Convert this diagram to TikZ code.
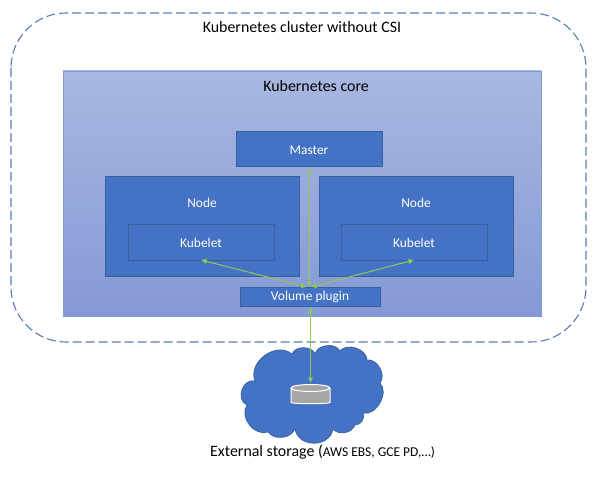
\documentclass[tikz,border=0pt]{standalone}
\usepackage{fontspec}
\setmainfont{Carlito}
\usetikzlibrary{arrows.meta}
\definecolor{blue1}{HTML}{4472C4}
\definecolor{edge1}{HTML}{36609F}
\definecolor{dash1}{HTML}{5B7DB8}
\definecolor{green1}{HTML}{8FCB55}
\definecolor{coreTop}{HTML}{A9B8E0}
\definecolor{coreBot}{HTML}{8499D6}
\definecolor{coreEdge}{HTML}{7F9BD3}
\tikzset{
  x=1pt,y=-1pt,
  bluebox/.style={draw=edge1,line width=1pt,fill=blue1},
  boxtext/.style={text=white,font=\fontsize{13.4}{15}\selectfont},
  lbl/.style={font=\fontsize{15.9}{18}\selectfont,text=black,inner sep=0pt},
  link/.style={draw=green1,line width=1pt,{Latex[length=5.5pt,width=5.5pt]}-{Latex[length=5.5pt,width=5.5pt]}},
}
\begin{document}
\begin{tikzpicture}
\useasboundingbox (0,0) rectangle (599,478);
\fill[white] (0,0) rectangle (599,478);
\draw[dash1,line width=1.1pt,dash pattern=on 9pt off 4pt,rounded corners=55pt] (11,13) rectangle (586,342);
\node[lbl] (title) at (302,27) {Kubernetes cluster without CSI};
\shade[top color=coreTop,bottom color=coreBot] (63,71) rectangle (541,316);
\draw[coreEdge,line width=0.8pt] (63,71) rectangle (541,316);
\node[lbl] (core) at (316,86) {Kubernetes core};
\path[bluebox] (236,132) rectangle (382,167);
\node[boxtext] (master) at (309,150) {Master};
\coordinate (mb) at (309.5,168);
\path[bluebox] (105,177) rectangle (299,276);
\node[boxtext] (nodeL) at (202,203) {Node};
\path[bluebox] (319,177) rectangle (513,276);
\node[boxtext] (nodeR) at (416,203) {Node};
\path[bluebox] (128,225) rectangle (274,260);
\node[boxtext] (kubL) at (201,243) {Kubelet};
\coordinate (kbL) at (201,260);
\path[bluebox] (341,225) rectangle (487,260);
\node[boxtext] (kubR) at (414,243) {Kubelet};
\coordinate (kbR) at (414,260);
\path[bluebox] (240,287) rectangle (380,306);
\node[boxtext] (plugin) at (310,297) {Volume plugin};
\coordinate (ptL) at (307,287);
\coordinate (ptM) at (309.5,287);
\coordinate (ptR) at (311,287);
\coordinate (pb) at (310.5,307);
% cloud
\draw[fill=blue1,draw=edge1,line width=0.7pt]
  (255,381) to[bend left=75,looseness=1.15] (292,354) to[bend left=70] (315,354)
  to[bend left=70] (340,351) to[bend left=70] (367,360)
  to[bend left=70] (380,383) to[bend left=75] (363,413)
  to[bend left=60] (355,425) to[bend left=60] (333,429)
  to[bend left=80,looseness=1.3] (295,429) to[bend left=60] (268,432)
  to[bend left=70,looseness=1.1] (247,405) to[bend left=85,looseness=1.3] cycle;
% disk
\draw[white,line width=1pt,fill=black!35] (291,388) -- (291,402.5) arc[start angle=180,end angle=360,x radius=19.5,y radius=-1.2] -- (330,388);
\draw[white,line width=1pt,fill=black!35] (291,388) arc[start angle=180,end angle=360,x radius=19.5,y radius=-3.5] arc[start angle=0,end angle=180,x radius=19.5,y radius=-3.5] -- cycle;
\coordinate (disk) at (310.5,383);
\draw[link] (ptM) -- (mb);
\draw[link] (ptL) -- (kbL);
\draw[link] (ptR) -- (kbR);
\draw[link] (pb) -- (disk);
\node[lbl,anchor=base west] (ext) at (210,456) {External storage (\fontsize{13.5}{15}\selectfont AWS EBS, GCE PD,…)};
\end{tikzpicture}
\end{document}
